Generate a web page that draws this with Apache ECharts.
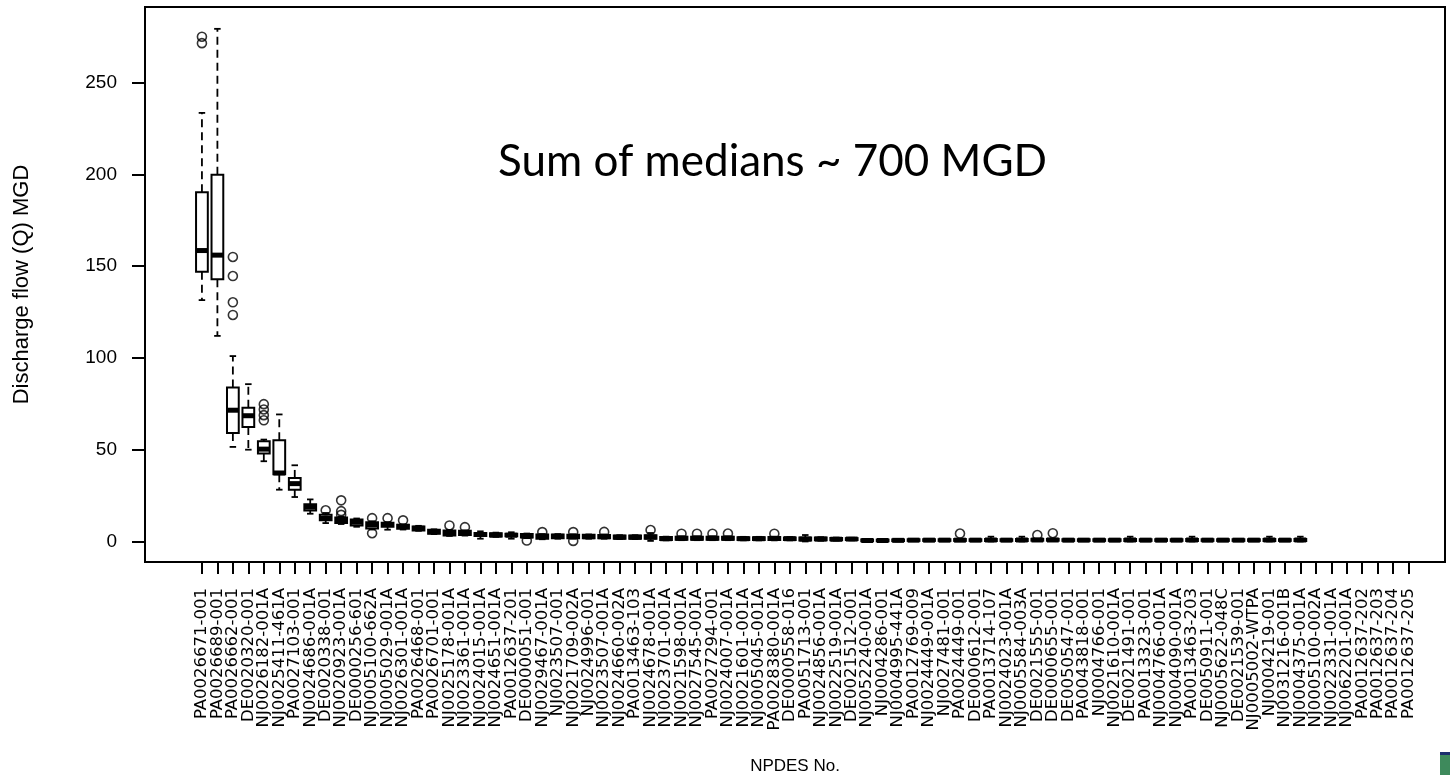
<!DOCTYPE html>
<html>
<head>
<meta charset="utf-8">
<script src="https://cdn.jsdelivr.net/npm/echarts@6/dist/echarts.min.js"></script>
<style>
html,body{margin:0;padding:0;background:#fff;}
#chart{width:1450px;height:775px;}
</style>
</head>
<body>
<div id="chart"></div>
<script>
const categories = [
"PA0026671-001","PA0026689-001","PA0026662-001","DE0020320-001","NJ0026182-001A","NJ0025411-461A","PA0027103-001","NJ0024686-001A","DE0020338-001","NJ0020923-001A",
"DE0000256-601","NJ0005100-662A","NJ0005029-001A","NJ0026301-001A","PA0026468-001","PA0026701-001","NJ0025178-001A","NJ0023361-001A","NJ0024015-001A","NJ0024651-001A",
"PA0012637-201","DE0000051-001","NJ0029467-001A","NJ0023507-001","NJ0021709-002A","NJ0024996-001","NJ0023507-001A","NJ0024660-002A","PA0013463-103","NJ0024678-001A",
"NJ0023701-001A","NJ0021598-001A","NJ0027545-001A","PA0027294-001","NJ0024007-001A","NJ0021601-001A","NJ0005045-001A","PA0028380-001A","DE0000558-016","PA0051713-001",
"NJ0024856-001A","NJ0022519-001A","DE0021512-001","NJ0052240-001A","NJ0004286-001","NJ0004995-441A","PA0012769-009","NJ0024449-001A","NJ0027481-001","PA0024449-001",
"DE0000612-001","PA0013714-107","NJ0024023-001A","NJ0005584-003A","DE0021555-001","DE0000655-001","DE0050547-001","PA0043818-001","NJ0004766-001","NJ0021610-001A",
"DE0021491-001","PA0013323-001","NJ0004766-001A","NJ0004090-001A","PA0013463-203","DE0050911-001","NJ0005622-048C","DE0021539-001","NJ0005002-WTPA","NJ0004219-001",
"NJ0031216-001B","NJ0004375-001A","NJ0005100-002A","NJ0022331-001A","NJ0062201-001A","PA0012637-202","PA0012637-203","PA0012637-204","PA0012637-205"
];

// lower whisker end
const whiskerLow = [
131.5,112,51.5,50,43.7,28.2,24.2,15.1,10,9.5,
8,6.5,6.4,6.5,5.8,4,3,3.2,1.5,2.5,
1.5,1.8,1.2,1.5,1.5,1.5,1.5,1.3,1.3,0.3,
0.6,0.7,0.7,0.7,0.7,0.6,0.6,0.6,0.6,0,
0.4,0.5,0.6,0,0,0.1,0.2,0.2,0.2,0.2,
0.2,0,0.2,0,0.3,0.3,0.2,0.2,0.2,0.2,
0,0.2,0.2,0.2,0,0.2,0.2,0.2,0.2,0,
0.2,0,null,null,null,null,null,null,null
];
const q1 = [
147,142.8,59.1,62.4,47.9,36.6,28.2,16.9,11.5,10,
8.7,7,8,6.9,6,4.2,3.3,3.5,3,2.7,
2.8,2.2,1.5,1.8,1.8,1.8,1.8,1.5,1.5,1.5,
0.8,0.9,0.9,0.9,0.9,0.8,0.8,0.8,0.8,0.5,
0.6,0.7,0.8,0.1,0.1,0.2,0.3,0.3,0.3,0.3,
0.3,0.3,0.3,0.3,0.4,0.4,0.3,0.3,0.3,0.3,
0.3,0.3,0.3,0.3,0.3,0.3,0.3,0.3,0.3,0.3,
0.3,0.3,null,null,null,null,null,null,null
];
const median = [
158.5,156,71.5,68.5,50.3,37.3,31.5,18.7,12.5,11.5,
10.5,9,9.2,8.2,7.2,5.3,4.8,4.6,3.8,3.5,
3.4,3,2.8,2.8,2.7,2.6,2.6,2.3,2.3,2.4,
1.5,1.7,1.7,1.7,1.7,1.5,1.5,1.6,1.5,1.3,
1.3,1.2,1.3,0.5,0.5,0.6,0.7,0.7,0.7,0.7,
0.7,0.8,0.7,0.8,0.8,0.8,0.7,0.7,0.7,0.7,
0.8,0.7,0.7,0.7,0.8,0.7,0.7,0.7,0.7,0.8,
0.7,0.8,null,null,null,null,null,null,null
];
const q3 = [
190.3,199.8,83.9,72.8,54.6,55.1,34.6,20.2,14.5,13,
12,10.5,10.2,9.1,8.2,6.4,6,5.8,4.6,4.5,
4.2,4,3.8,3.8,3.6,3.6,3.5,3.2,3.2,3.4,
2.4,2.6,2.6,2.6,2.6,2.3,2.3,2.4,2.2,2.2,
2.1,1.9,1.8,1.1,1.0,1.1,1.2,1.2,1.2,1.3,
1.2,1.4,1.2,1.4,1.4,1.4,1.2,1.2,1.2,1.2,
1.4,1.2,1.2,1.2,1.4,1.2,1.2,1.2,1.2,1.4,
1.2,1.4,null,null,null,null,null,null,null
];
// upper whisker end
const whiskerHigh = [
233.5,279.3,101,85.7,55.5,69.2,41.5,22.9,15.5,13.5,
12.5,11,10.5,9.3,8.5,6.6,6.3,6,5.5,4.8,
5,4.3,4,4,3.9,3.8,3.8,3.4,3.4,4.6,
2.6,2.8,2.8,2.8,2.8,2.5,2.5,2.6,2.4,3.5,
2.3,2.1,2.0,1.2,1.1,1.2,1.3,1.3,1.3,1.4,
1.3,2.6,1.3,2.6,1.5,1.5,1.3,1.3,1.3,1.3,
2.6,1.3,1.3,1.3,2.6,1.3,1.3,1.3,1.3,2.6,
1.3,2.6,null,null,null,null,null,null,null
];
// outliers: [category number (1-based), value]
const outliers = [
[1,275],[1,271.5],[3,155],[3,144.6],[3,130.3],[3,123.4],
[5,74.8],[5,71.9],[5,68.8],[5,66],[9,17],[10,22.4],[10,16.5],[10,14.5],
[12,12.7],[12,4.5],[13,12.7],[14,11.5],[17,8.7],[18,7.8],[22,0.5],[23,5.1],
[25,5.1],[25,0.3],[27,5.2],[30,6.2],[32,4.2],[33,4.2],[34,4.2],[35,4.3],
[38,4.2],[50,4.3],[55,3.5],[56,4.5]
];
const yTicks = [0,50,100,150,200,250];

const boxData = [];
categories.forEach((c, i) => {
  if (median[i] == null) return;
  boxData.push([i + 1, whiskerLow[i], q1[i], median[i], q3[i], whiskerHigh[i]]);
});
const catTicks = categories.map((c, i) => i + 1);
const X_MIN = -2.68, X_MAX = 81.35;
// empty guard labels at both ends keep the first/last names from being dropped by overlap checks
const labelValues = [X_MIN + 0.1].concat(catTicks, [X_MAX - 0.1]);

const chart = echarts.init(document.getElementById('chart'), null, {renderer: 'canvas'});

function renderBox(params, api) {
  const x = api.value(0);
  const lo = api.coord([x, api.value(1)]);
  const b1 = api.coord([x, api.value(2)]);
  const md = api.coord([x, api.value(3)]);
  const b3 = api.coord([x, api.value(4)]);
  const hi = api.coord([x, api.value(5)]);
  const bw = api.size([0.76, 0])[0];
  const cw = api.size([0.42, 0])[0];
  const cx = lo[0];
  const dash = {stroke: '#000', lineWidth: 1.8, lineDash: [8, 5]};
  const solid = {stroke: '#000', lineWidth: 1.8};
  return {
    type: 'group',
    children: [
      {type: 'line', shape: {x1: cx, y1: b3[1], x2: cx, y2: hi[1]}, style: dash},
      {type: 'line', shape: {x1: cx, y1: b1[1], x2: cx, y2: lo[1]}, style: dash},
      {type: 'line', shape: {x1: cx - cw / 2, y1: hi[1], x2: cx + cw / 2, y2: hi[1]}, style: solid},
      {type: 'line', shape: {x1: cx - cw / 2, y1: lo[1], x2: cx + cw / 2, y2: lo[1]}, style: solid},
      {type: 'rect', shape: {x: cx - bw / 2, y: b3[1], width: bw, height: b1[1] - b3[1]},
        style: {fill: '#fff', stroke: '#000', lineWidth: 2}},
      {type: 'line', shape: {x1: cx - bw / 2, y1: md[1], x2: cx + bw / 2, y2: md[1]},
        style: {stroke: '#000', lineWidth: 5}}
    ]
  };
}

const option = {
  backgroundColor: '#fff',
  animation: false,
  grid: {
    left: 145, top: 7, width: 1300, height: 555,
    outerBoundsMode: 'none', containLabel: false,
    show: true, borderColor: '#000', borderWidth: 2, backgroundColor: 'transparent'
  },
  xAxis: {
    type: 'value',
    min: X_MIN, max: X_MAX,
    name: 'NPDES No.',
    nameLocation: 'middle',
    nameGap: 196,
    nameMoveOverlap: false,
    nameTextStyle: {fontFamily: 'Liberation Sans', fontSize: 17, color: '#000'},
    axisLine: {show: true, onZero: false, lineStyle: {color: '#000', width: 2}},
    axisTick: {show: true, customValues: catTicks, length: 12, lineStyle: {color: '#000', width: 2}},
    axisLabel: {
      show: true, customValues: labelValues, rotate: 90, margin: 26,
      fontFamily: 'DejaVu Sans', fontSize: 16.5, color: '#000',
      formatter: v => {
        const r = Math.round(v);
        return Math.abs(v - r) < 1e-6 ? (categories[r - 1] || '') : '';
      }
    },
    splitLine: {show: false}
  },
  yAxis: {
    type: 'value',
    min: -11.2, max: 291.2,
    name: 'Discharge flow (Q) MGD',
    nameLocation: 'middle',
    nameGap: 112,
    nameRotate: 90,
    nameMoveOverlap: false,
    nameTextStyle: {fontFamily: 'Liberation Sans', fontSize: 22, color: '#000'},
    axisLine: {show: true, onZero: false, lineStyle: {color: '#000', width: 2}},
    axisTick: {show: true, customValues: yTicks, length: 13, lineStyle: {color: '#000', width: 2}},
    axisLabel: {show: true, customValues: yTicks, margin: 28, fontFamily: 'Liberation Sans', fontSize: 19, color: '#000'},
    splitLine: {show: false}
  },
  series: [
    {
      type: 'custom',
      name: 'box',
      renderItem: renderBox,
      encode: {x: 0, y: [1, 2, 3, 4, 5]},
      data: boxData,
      z: 2
    },
    {
      type: 'scatter',
      name: 'outliers',
      data: outliers,
      symbol: 'circle',
      symbolSize: 9,
      itemStyle: {color: 'rgba(0,0,0,0)', borderColor: '#000', borderWidth: 1.6},
      z: 3
    }
  ],
  graphic: [
    {type: 'text', left: 498, top: 140, style: {text: 'Sum of medians ~ 700 MGD', fontFamily: 'Lato', fontSize: 44, fill: '#000'}},
    {type: 'rect', left: 1440, top: 752, shape: {width: 10, height: 23}, style: {fill: '#3e8a5c'}},
    {type: 'rect', left: 1440, top: 752, shape: {width: 10, height: 3}, style: {fill: '#1c2f6e'}}
  ]
};
chart.setOption(option);
</script>
</body>
</html>
